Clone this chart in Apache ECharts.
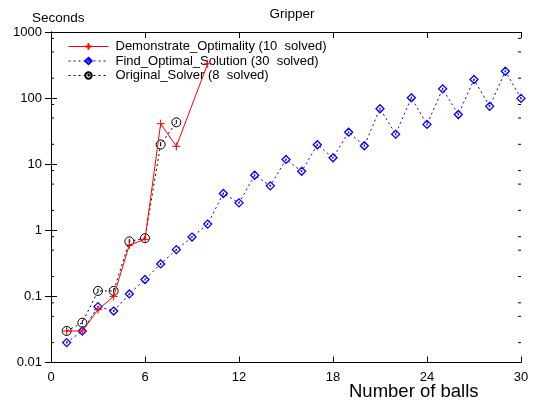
<!DOCTYPE html>
<html>
<head>
<meta charset="utf-8">
<script src="https://cdn.jsdelivr.net/npm/echarts@6/dist/echarts.min.js"></script>
<style>html,body{margin:0;padding:0;background:#fff}#c{width:534px;height:404px}</style>
</head>
<body>
<div id="c"></div>
<script>
// ---- data ----
const xTicks = [0, 6, 12, 18, 24, 30];
const yTicks = [0.01, 0.1, 1, 10, 100, 1000];
const yMinorTicks = [0.02, 0.05, 0.08, 0.2, 0.5, 0.8, 2, 5, 8, 20, 50, 80, 200, 500, 800];

const demoX = [1, 2, 3, 4, 5, 6, 7, 8, 10];
const demoY = [0.030, 0.030, 0.063, 0.10, 0.60, 0.73, 41, 18.6, 330];

const findX = [1,2,3,4,5,6,7,8,9,10,11,12,13,14,15,16,17,18,19,20,21,22,23,24,25,26,27,28,29,30];
const findY = [0.020, 0.030, 0.070, 0.060, 0.109, 0.18, 0.31, 0.51, 0.79, 1.24, 3.6, 2.6,
               6.8, 4.7, 11.8, 7.8, 19.7, 12.5, 30.5, 19, 69, 28.5, 101, 40, 138, 56.5, 191, 75, 255, 99];

const origX = [1, 2, 3, 4, 5, 6, 7, 8];
const origY = [0.030, 0.040, 0.121, 0.121, 0.68, 0.76, 19.9, 43];

const names = ['Demonstrate_Optimality (10  solved)', 'Find_Optimal_Solution (30  solved)', 'Original_Solver (8  solved)'];

const zip = (xs, ys) => xs.map((x, i) => [x, ys[i]]);
const FONT = "'Liberation Sans', Arial, sans-serif";

const plusPath = 'path://M0,-1L0,1M-1,0L1,0';
const circPath = 'path://M0,-1A1,1 0 1 1 0,1A1,1 0 1 1 0,-1ZM0,-0.55L0,0.35';
const diaPath = 'path://M0,-1L1,0L0,1L-1,0ZM0,-0.25L0,0.25';

const chart = echarts.init(document.getElementById('c'), null, {renderer: 'canvas'});
const fmt = v => String(+(+v).toPrecision(3));

chart.setOption({
  animation: false,
  backgroundColor: '#fff',
  textStyle: {fontFamily: FONT},
  title: [
    {text: 'Gripper', left: 287, top: 2, textAlign: 'center',
     textStyle: {fontSize: 13.5, fontWeight: 'normal', color: '#000', fontFamily: FONT}},
    {text: 'Seconds', left: 27, top: 6,
     textStyle: {fontSize: 13.5, fontWeight: 'normal', color: '#000', fontFamily: FONT}},
    {text: 'Number of balls', left: 344, top: 377,
     textStyle: {fontSize: 18.5, fontWeight: 'normal', color: '#000', fontFamily: FONT}}
  ],
  grid: {left: 51, right: 13, top: 32, bottom: 41.5, containLabel: false},
  legend: {
    orient: 'vertical', left: 63, top: 35, itemWidth: 40, itemHeight: 8, itemGap: 1.5,
    data: names,
    lineStyle: {width: 1},
    textStyle: {fontSize: 13, lineHeight: 13, color: '#000', fontFamily: FONT, padding: [0, 0, 0, 2]}
  },
  xAxis: [
    {type: 'value', min: 0, max: 30, interval: 6, position: 'bottom',
     axisLine: {lineStyle: {color: '#000', width: 1}},
     axisTick: {inside: true, length: 6, lineStyle: {color: '#000'}},
     axisLabel: {color: '#000', fontSize: 13, margin: 8, fontFamily: FONT,
                 formatter: v => xTicks.includes(v) ? String(v) : ''},
     splitLine: {show: false}},
    {type: 'value', min: 0, max: 30, interval: 6, position: 'top',
     axisLine: {lineStyle: {color: '#000', width: 1}},
     axisTick: {inside: true, length: 6, lineStyle: {color: '#000'}},
     axisLabel: {show: false}, splitLine: {show: false}}
  ],
  yAxis: [
    {type: 'log', logBase: 10, min: 0.01, max: 1000, position: 'left',
     axisLine: {show: true, lineStyle: {color: '#000', width: 1}},
     axisTick: {show: true, inside: true, length: 6, lineStyle: {color: '#000'}},
     axisLabel: {color: '#000', fontSize: 13, margin: 9, fontFamily: FONT,
                 formatter: v => yTicks.some(t => Math.abs(t - v) / t < 1e-6) ? fmt(v) : ''},
     splitLine: {show: false}},
    {type: 'log', logBase: 10, min: 0.01, max: 1000, position: 'right',
     axisLine: {show: true, lineStyle: {color: '#000', width: 1}},
     axisTick: {show: true, inside: true, length: 6, lineStyle: {color: '#000'}},
     axisLabel: {show: false}, splitLine: {show: false}}
  ],
  series: [
    {
      name: 'minorTicks', type: 'custom', silent: true, xAxisIndex: 0, yAxisIndex: 0,
      data: yMinorTicks.map(v => [0, v]), encode: {x: 0, y: 1}, clip: false,
      renderItem: (params, api) => {
        const v = api.value(1);
        const l = api.coord([0, v]);
        const r = api.coord([30, v]);
        return {type: 'group', children: [
          {type: 'line', shape: {x1: l[0], y1: l[1], x2: l[0] + 3, y2: l[1]}, style: {stroke: '#000', lineWidth: 1}},
          {type: 'line', shape: {x1: r[0], y1: r[1], x2: r[0] - 3, y2: r[1]}, style: {stroke: '#000', lineWidth: 1}}
        ]};
      }
    },
    {
      name: names[2], type: 'line', data: zip(origX, origY), z: 3,
      symbol: circPath, symbolSize: 9,
      lineStyle: {color: '#000', width: 1, type: [2, 3]},
      itemStyle: {color: 'rgba(255,255,255,0)', borderColor: '#000', borderWidth: 1}
    },
    {
      name: names[1], type: 'line', data: zip(findX, findY), z: 4,
      symbol: diaPath, symbolSize: [8, 8],
      lineStyle: {color: '#0000ff', width: 1, type: [2, 3]},
      itemStyle: {color: 'rgba(255,255,255,0)', borderColor: '#0000ff', borderWidth: 1.3}
    },
    {
      name: names[0], type: 'line', data: zip(demoX, demoY), z: 5,
      symbol: plusPath, symbolSize: 8,
      lineStyle: {color: '#ff0000', width: 1},
      itemStyle: {color: '#ff0000', borderColor: '#ff0000', borderWidth: 1}
    }
  ]
});
</script>
</body>
</html>
